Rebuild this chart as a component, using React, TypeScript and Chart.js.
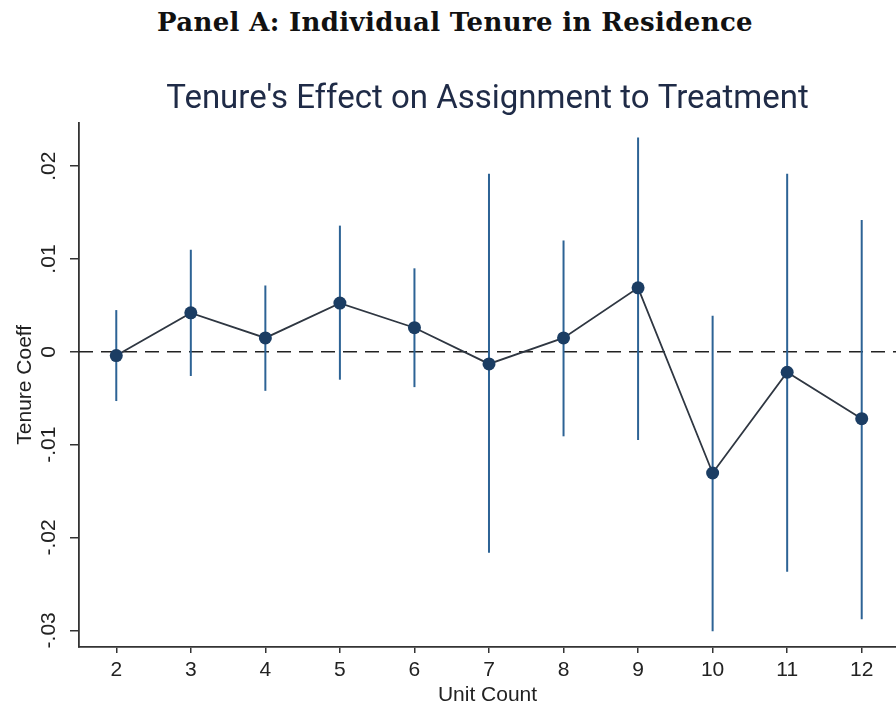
import React, { useEffect, useRef } from "react";
import { Chart, registerables } from "chart.js";

Chart.register(...registerables);

const panelTitle = "Panel A: Individual Tenure in Residence";
const chartTitle = "Tenure's Effect on Assignment to Treatment";
const xTitle = "Unit Count";
const yTitle = "Tenure Coeff";

const unitCount = [2, 3, 4, 5, 6, 7, 8, 9, 10, 11, 12];
const coef = [-0.0004, 0.0042, 0.0015, 0.00525, 0.0026, -0.0013, 0.0015, 0.0069, -0.01305, -0.0022, -0.0072];
const ciLow = [-0.0053, -0.0026, -0.0042, -0.003, -0.0038, -0.02165, -0.0091, -0.0095, -0.0301, -0.0237, -0.0288];
const ciHigh = [0.0045, 0.011, 0.00715, 0.0136, 0.009, 0.0192, 0.012, 0.0231, 0.0039, 0.0192, 0.0142];

const yTickValues = [-0.03, -0.02, -0.01, 0, 0.01, 0.02];
const yTickLabels = ["-.03", "-.02", "-.01", "0", ".01", ".02"];

const AXIS_COLOR = "#333333";
const CI_COLOR = "#2d6395";
const LINE_COLOR = "#2f3742";
const MARKER_COLOR = "#1b3d63";
const TEXT_FONT = "'Liberation Sans', Arial, sans-serif";

const errorBarPlugin = {
  id: "errorBars",
  beforeDatasetsDraw(chart: any) {
    const { ctx, scales, chartArea } = chart;
    const xs = scales.x;
    const ys = scales.y;
    ctx.save();
    const y0 = ys.getPixelForValue(0);
    ctx.strokeStyle = "#222222";
    ctx.lineWidth = 1.5;
    ctx.setLineDash([14, 8]);
    ctx.beginPath();
    ctx.moveTo(chartArea.left, y0);
    ctx.lineTo(chartArea.right, y0);
    ctx.stroke();
    ctx.setLineDash([]);
    ctx.strokeStyle = CI_COLOR;
    ctx.lineWidth = 2;
    unitCount.forEach((u, i) => {
      const x = xs.getPixelForValue(u);
      ctx.beginPath();
      ctx.moveTo(x, ys.getPixelForValue(ciLow[i]));
      ctx.lineTo(x, ys.getPixelForValue(ciHigh[i]));
      ctx.stroke();
    });
    ctx.restore();
  },
  afterDraw(chart: any) {
    const { ctx, scales } = chart;
    const ys = scales.y;
    ctx.save();
    ctx.fillStyle = "#222222";
    ctx.font = `21px ${TEXT_FONT}`;
    ctx.textAlign = "center";
    ctx.textBaseline = "middle";
    yTickValues.forEach((v, i) => {
      const y = ys.getPixelForValue(v);
      ctx.save();
      ctx.translate(49, y);
      ctx.rotate(-Math.PI / 2);
      ctx.fillText(yTickLabels[i], 0, 0);
      ctx.restore();
    });
    ctx.restore();
  },
};

export default function App() {
  const canvasRef = useRef<HTMLCanvasElement | null>(null);

  useEffect(() => {
    const canvas = canvasRef.current;
    if (!canvas) return;
    const chart = new Chart(canvas, {
      type: "line",
      data: {
        datasets: [
          {
            data: unitCount.map((u, i) => ({ x: u, y: coef[i] })),
            borderColor: LINE_COLOR,
            borderWidth: 1.8,
            pointRadius: 6.5,
            pointBackgroundColor: MARKER_COLOR,
            pointBorderColor: MARKER_COLOR,
            pointBorderWidth: 0,
            tension: 0,
            fill: false,
          },
        ],
      },
      plugins: [errorBarPlugin],
      options: {
        animation: false,
        responsive: false,
        maintainAspectRatio: false,
        devicePixelRatio: 1,
        layout: { autoPadding: false, padding: { top: 80, left: 0, right: 0, bottom: 0 } },
        plugins: {
          legend: { display: false },
          tooltip: { enabled: false },
          title: {
            display: true,
            text: chartTitle,
            fullSize: false,
            color: "#1f2b47",
            font: { family: "Roboto, 'Liberation Sans', sans-serif", size: 33, weight: "normal", lineHeight: 1.2 },
            padding: { top: 0, bottom: 3 },
          },
        },
        scales: {
          x: {
            type: "linear",
            min: 1.5,
            max: 12.46,
            afterBuildTicks: (scale: any) => {
              scale.ticks = unitCount.map((v) => ({ value: v }));
            },
            afterFit: (scale: any) => {
              scale.height = 61;
            },
            grid: {
              drawOnChartArea: false,
              drawTicks: true,
              tickLength: 6,
              color: AXIS_COLOR,
              lineWidth: 1.5,
            },
            border: { display: true, color: AXIS_COLOR, width: 1.8 },
            ticks: {
              color: "#222222",
              font: { family: TEXT_FONT, size: 21 },
              padding: 5,
              maxRotation: 0,
              minRotation: 0,
              callback: (v: any) => String(v),
            },
            title: {
              display: true,
              text: xTitle,
              color: "#222222",
              font: { family: TEXT_FONT, size: 21, lineHeight: 1.2 },
              padding: { top: 0, bottom: 0 },
            },
          },
          y: {
            type: "linear",
            min: -0.0318,
            max: 0.0247,
            afterBuildTicks: (scale: any) => {
              scale.ticks = yTickValues.map((v) => ({ value: v }));
            },
            afterFit: (scale: any) => {
              scale.width = 79;
            },
            grid: {
              drawOnChartArea: false,
              drawTicks: true,
              tickLength: 9,
              color: AXIS_COLOR,
              lineWidth: 1.5,
            },
            border: { display: true, color: AXIS_COLOR, width: 1.8 },
            ticks: { display: false },
            title: {
              display: true,
              text: yTitle,
              color: "#222222",
              font: { family: TEXT_FONT, size: 21, lineHeight: 1.2 },
              padding: { top: 13, bottom: 0 },
            },
          },
        },
      },
    });
    return () => chart.destroy();
  }, []);

  return (
    <div
      style={{
        position: "fixed",
        left: 0,
        top: 0,
        width: 896,
        height: 708,
        background: "#ffffff",
        overflow: "hidden",
      }}
    >
      <div
        style={{
          position: "absolute",
          left: 455,
          top: 9,
          transform: "translateX(-50%)",
          whiteSpace: "nowrap",
          fontFamily: "'DejaVu Serif', serif",
          fontWeight: "bold",
          fontSize: 26,
          letterSpacing: 0.35,
          lineHeight: 1,
          color: "#111111",
        }}
      >
        {panelTitle}
      </div>
      <canvas
        ref={canvasRef}
        width={896}
        height={708}
        style={{ position: "absolute", left: 0, top: 0, width: 896, height: 708 }}
      />
    </div>
  );
}
